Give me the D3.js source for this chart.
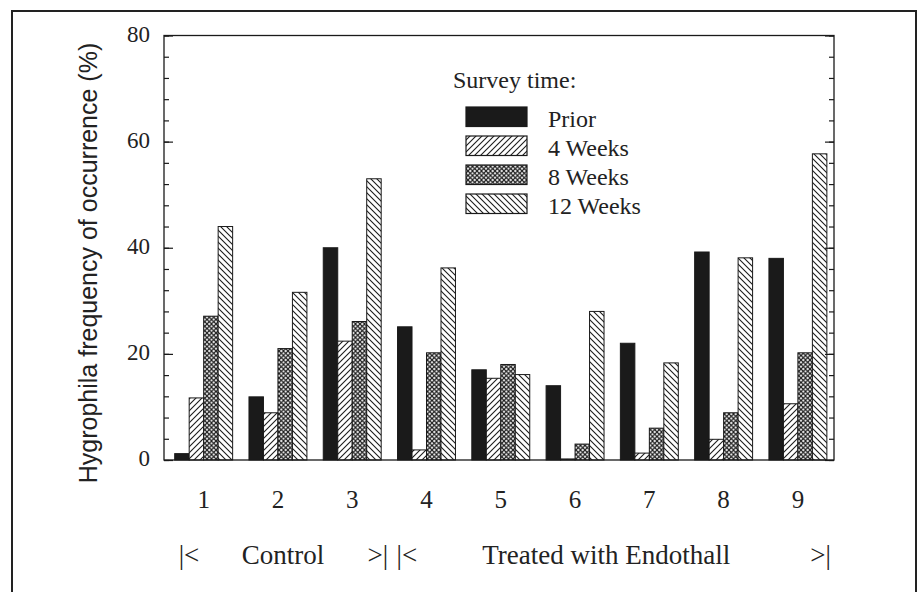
<!DOCTYPE html>
<html>
<head>
<meta charset="utf-8">
<script src="https://cdn.jsdelivr.net/npm/d3@7"></script>
<style>
  html, body { margin: 0; padding: 0; background: #fff; }
  svg { display: block; }
</style>
</head>
<body>
<svg id="chart" width="919" height="592"></svg>
<script>
// ---- data ----
const groups = ["1", "2", "3", "4", "5", "6", "7", "8", "9"];
const seriesNames = ["Prior", "4 Weeks", "8 Weeks", "12 Weeks"];
const prior   = [1.2, 11.9, 40.0, 25.1, 17.0, 14.0, 22.0, 39.2, 38.0];
const week4   = [11.7, 8.9, 22.4, 1.9, 15.4, 0.2, 1.3, 3.9, 10.6];
const week8   = [27.1, 21.0, 26.1, 20.2, 18.0, 3.0, 6.0, 8.9, 20.2];
const week12  = [44.0, 31.6, 53.0, 36.2, 16.1, 28.0, 18.3, 38.1, 57.7];
const yMajorTicks = [0, 20, 40, 60, 80];
const yMinorTicks = d3.range(0, 81, 4);
const legendTitle = "Survey time:";
const yTitle = "Hygrophila frequency of occurrence (%)";
const controlGroups = ["1", "2", "3"];
const treatedGroups = ["4", "5", "6", "7", "8", "9"];
const controlLabel = "Control";
const treatedLabel = "Treated with Endothall";

const seriesValues = [prior, week4, week8, week12];

// ---- layout ----
const svg = d3.select("#chart");
const L = 164, R = 834, T = 35.5, B = 460;
const serif = "'Liberation Serif', 'Times New Roman', serif";
const sans = "'Liberation Sans', Arial, sans-serif";
const ink = "#1a1a1a";

// outer frame
svg.append("rect").attr("x", 12).attr("y", 11).attr("width", 904).attr("height", 620)
  .attr("fill", "none").attr("stroke", "#222").attr("stroke-width", 2);

// patterns
const defs = svg.append("defs");
function hatch(id, size, paths, sw) {
  const p = defs.append("pattern").attr("id", id).attr("patternUnits", "userSpaceOnUse")
    .attr("width", size).attr("height", size);
  p.append("rect").attr("width", size).attr("height", size).attr("fill", "#fff");
  paths.forEach(d => p.append("path").attr("d", d).attr("stroke", ink)
    .attr("stroke-width", sw).attr("fill", "none"));
}
const s1 = 6;
hatch("fwd", s1, [`M0,${s1} L${s1},0`, `M-1,1 L1,-1`, `M${s1-1},${s1+1} L${s1+1},${s1-1}`], 1.1);
const s3 = 6;
hatch("bwd", s3, [`M0,0 L${s3},${s3}`, `M-1,${s3-1} L1,${s3+1}`, `M${s3-1},-1 L${s3+1},1`], 1.1);
const s2 = 4.5;
hatch("cross", s2, [`M0,${s2} L${s2},0`, `M-1,1 L1,-1`, `M${s2-1},${s2+1} L${s2+1},${s2-1}`,
                    `M0,0 L${s2},${s2}`, `M-1,${s2-1} L1,${s2+1}`, `M${s2-1},-1 L${s2+1},1`], 1.15);
const fills = [ink, "url(#fwd)", "url(#cross)", "url(#bwd)"];

// scales
const x = d3.scaleBand().domain(groups).range([L, R]).paddingInner(0.22).paddingOuter(0.12).align(0.6);
const xs = d3.scaleBand().domain(seriesNames).range([0, x.bandwidth()]);
const y = d3.scaleLinear().domain([0, 80]).range([B, T]);

// bars
const barData = [];
groups.forEach((g, gi) => seriesNames.forEach((s, si) => barData.push({ g, s, si, v: seriesValues[si][gi] })));
svg.append("g").selectAll("rect").data(barData).join("rect")
  .attr("x", d => x(d.g) + xs(d.s))
  .attr("y", d => y(d.v))
  .attr("width", xs.bandwidth())
  .attr("height", d => y(0) - y(d.v))
  .attr("fill", d => fills[d.si])
  .attr("stroke", ink).attr("stroke-width", 1);

// axes frame
const axisStyle = g => {
  g.select(".domain").remove();
  g.selectAll("line").attr("stroke", ink).attr("stroke-width", 1.2);
};
svg.append("g").attr("transform", `translate(${L},0)`)
  .call(d3.axisLeft(y).tickValues(yMinorTicks).tickSize(-5).tickFormat(""))
  .call(axisStyle);
const yAx = svg.append("g").attr("transform", `translate(${L},0)`)
  .call(d3.axisLeft(y).tickValues(yMajorTicks).tickSize(-9).tickPadding(14).tickFormat(d3.format("d")))
  .call(axisStyle);
yAx.selectAll("text").attr("font-family", serif).attr("font-size", 23).attr("fill", "#222").attr("dy", "0.25em");
svg.append("g").attr("transform", `translate(${R},0)`)
  .call(d3.axisRight(y).tickValues(yMinorTicks).tickSize(-5).tickFormat(""))
  .call(axisStyle);
svg.append("g").attr("transform", `translate(${R},0)`)
  .call(d3.axisRight(y).tickValues(yMajorTicks).tickSize(-9).tickFormat(""))
  .call(axisStyle);
svg.append("rect").attr("x", L).attr("y", T).attr("width", R - L).attr("height", B - T)
  .attr("fill", "none").attr("stroke", ink).attr("stroke-width", 1.3);

// x tick labels
const xAx = svg.append("g").attr("transform", `translate(0,${B})`)
  .call(d3.axisBottom(x).tickSize(0).tickPadding(30));
xAx.select(".domain").remove();
xAx.selectAll("text").attr("font-family", serif).attr("font-size", 25).attr("fill", "#222");

// group labels
const gy = 564;
const cStart = x(controlGroups[0]), cEnd = x(controlGroups[controlGroups.length - 1]) + x.bandwidth();
const tStart = x(treatedGroups[0]), tEnd = x(treatedGroups[treatedGroups.length - 1]) + x.bandwidth();
const gl = svg.append("g").attr("font-family", serif).attr("font-size", 27).attr("fill", "#222");
gl.append("text").attr("x", cStart + 4).attr("y", gy).text("|<");
gl.append("text").attr("x", (cStart + cEnd) / 2 + 5).attr("y", gy).attr("text-anchor", "middle").text(controlLabel);
gl.append("text").attr("x", cEnd + 7).attr("y", gy).attr("text-anchor", "end").text(">|");
gl.append("text").attr("x", tStart - 1).attr("y", gy).text("|<");
gl.append("text").attr("x", (tStart + tEnd) / 2 - 6).attr("y", gy).attr("text-anchor", "middle").text(treatedLabel);
gl.append("text").attr("x", tEnd + 4).attr("y", gy).attr("text-anchor", "end").text(">|");

// y title
svg.append("text").attr("transform", "translate(97,263) rotate(-90)")
  .attr("text-anchor", "middle").attr("font-family", sans).attr("font-size", 25).attr("fill", "#222")
  .text(yTitle);

// legend
const lg = svg.append("g").attr("font-family", serif).attr("fill", "#222");
lg.append("text").attr("x", 453).attr("y", 88).attr("font-size", 24).text(legendTitle);
seriesNames.forEach((s, i) => {
  const yy = 107 + i * 29;
  lg.append("rect").attr("x", 466).attr("y", yy).attr("width", 61).attr("height", 19.5)
    .attr("fill", fills[i]).attr("stroke", ink).attr("stroke-width", 1.2);
  lg.append("text").attr("x", 548).attr("y", yy + 19.5).attr("font-size", 24).text(s);
});
</script>
</body>
</html>
